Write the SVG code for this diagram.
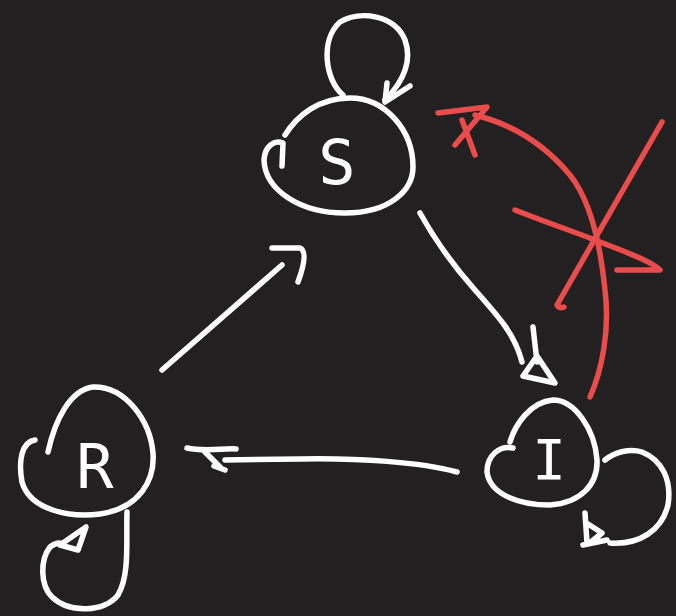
<svg xmlns="http://www.w3.org/2000/svg" width="676" height="616" viewBox="0 0 676 616">
  <style>
    .ink { fill: none; stroke: #ffffff; stroke-width: 5.5; stroke-linecap: round; stroke-linejoin: round; }
    .red { fill: none; stroke: #ea4b4b; stroke-width: 5.5; stroke-linecap: round; stroke-linejoin: round; }
    .lbl { fill: #ffffff; font-family: "DejaVu Sans Mono", "Liberation Mono", monospace; text-anchor: middle; }
  </style>
  <rect width="676" height="616" fill="#222020"/>

  <g id="connectors">
    <!-- S self loop -->
    <path class="ink" d="M343,95 C325,80 320,40 340,22 C360,10 395,15 405,40 C412,60 405,80 385,100"/>
    <path class="ink" d="M410,86 L385,102 L387,83"/>
    <!-- S to I -->
    <path class="ink" d="M420,213 C435,240 450,262 475,290 C500,318 515,335 522,362"/>
    <path class="ink" d="M533,327 L537,362 M523,376 L555,383 L537,356 Z"/>
    <!-- I to R -->
    <path class="ink" d="M457,472 C420,462 360,458 300,459 L225,460"/>
    <path class="ink" d="M187,448 C205,452 225,448 236,449 M205,452 L221,468 M214,466 L225,470"/>
    <!-- R to S -->
    <path class="ink" d="M162,370 L282,265"/>
    <path class="ink" d="M272,248 L300,248 Q309,252 298,282"/>
    <!-- R self loop -->
    <path class="ink" d="M127,512 C126,540 130,575 118,595 C105,612 70,614 52,597 C40,585 40,560 50,547 C55,543 60,542 62,544"/>
    <path class="ink" d="M60,545 L86,527 L78,550 Z"/>
    <!-- I self loop -->
    <path class="ink" d="M605,460 C615,452 630,448 642,452 C662,460 672,480 668,505 C662,530 640,545 610,543"/>
    <path class="ink" d="M585,513 L587,543 M583,545 L607,540 M588,524 L602,533 L591,542"/>
    <!-- I back to S (struck out) -->
    <path class="red" d="M590,397 C602,370 610,330 605,290 C600,240 590,200 570,175 C545,145 515,125 475,115"/>
    <path class="red" d="M438,113 L487,107 L455,145 M462,120 L475,155"/>
    <path class="red" d="M662,122 L557,305 Q560,309 564,307"/>
    <path class="red" d="M515,210 C545,222 575,232 595,240 C620,250 650,260 660,270 L617,270"/>
  </g>

  <g id="S">
    <path class="ink" d="M282,166 L283,143 C275,140 265,145 264,160 C265,190 300,213 345,213 C390,213 413,190 413,167 C413,130 385,98 350,98 C318,98 297,116 285,135"/>
    <text class="lbl" x="337" y="184" font-size="62">S</text>
  </g>

  <g id="R">
    <path class="ink" d="M35,440 C22,442 18,460 22,482 C30,510 70,518 100,514 C140,508 155,480 153,453 C150,420 125,386 93,387 C70,390 55,420 48,452"/>
    <text class="lbl" x="95" y="488" font-size="62">R</text>
  </g>

  <g id="I">
    <path class="ink" d="M513,448 C500,445 487,455 487,472 C490,495 520,505 550,505 C580,503 598,485 597,460 C595,430 575,400 553,400 C530,402 515,425 510,442"/>
    <text class="lbl" x="549" y="479" font-size="56">I</text>
  </g>
</svg>
